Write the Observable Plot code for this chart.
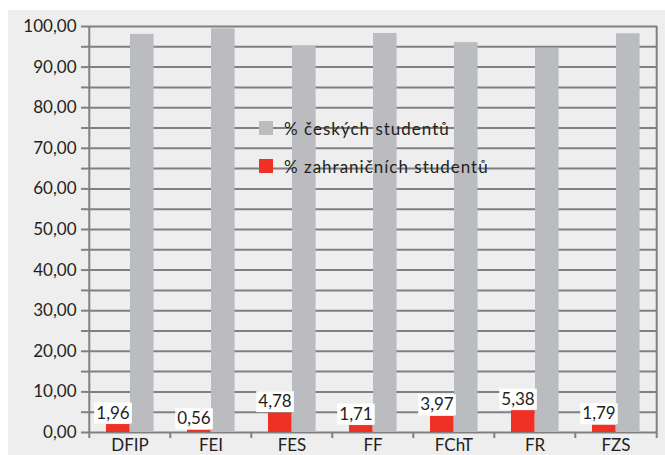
<!DOCTYPE html>
<html><head><meta charset="utf-8">
<script src="https://cdn.jsdelivr.net/npm/d3@7"></script>
<script src="https://cdn.jsdelivr.net/npm/@observablehq/plot@0.6"></script>
<style>
html,body{margin:0;padding:0;background:#fff;}
#wrap{position:relative;width:665px;height:455px;overflow:hidden;background:#fff;}
#chart{position:absolute;left:8px;top:10px;}
#legend{position:absolute;left:259px;top:118px;font-family:Lato,sans-serif;font-size:17px;color:#231f20;letter-spacing:1px;}
#legend .row{display:flex;align-items:center;height:20px;margin-bottom:18px;}
#legend .sw{width:14px;height:14px;margin-right:11px;}
</style></head><body>
<div id="wrap"><div id="chart"></div><div id="legend"></div></div>
<script>
const categories = ["DFIP","FEI","FES","FF","FChT","FR","FZS"];
const czechPct   = [98.04,99.44,95.22,98.29,96.03,94.62,98.21];
const foreignPct = [1.96,0.56,4.78,1.71,3.97,5.38,1.79];
const seriesNames = ["% českých studentů","% zahraničních studentů"];
const seriesColors = ["#bbbcbf","#ee3124"];
const yTicks = d3.range(0, 101, 5);

const czech = categories.map((c,i)=>({cat:c, value:czechPct[i]}));
const foreign = categories.map((c,i)=>({cat:c, value:foreignPct[i]}));

const W = 657, H = 445;
const mL = 79, mR = 8, mT = 16, mB = 23;
const bw = (W - mL - mR) / categories.length;
const fmt = d => d.toFixed(2).replace(".", ",");
const gridColor = "#808080";

const plot = Plot.plot({
  width: W, height: H,
  marginLeft: mL, marginRight: mR, marginTop: mT, marginBottom: mB,
  style: {background: "#eeeeee", fontFamily: "Lato, sans-serif", fontSize: "17px", color: "#231f20", overflow: "visible"},
  x: {domain: categories, padding: 0, type: "band", label: null},
  y: {domain: [0, 100], label: null},
  marks: [
    Plot.gridY(yTicks, {stroke: gridColor, strokeOpacity: 1, strokeWidth: 2}),
    Plot.barY(czech, {x: "cat", y: "value", fill: seriesColors[0], insetLeft: 41, insetRight: bw - 65}),
    Plot.barY(foreign, {x: "cat", y: "value", fill: seriesColors[1], insetLeft: 17, insetRight: bw - 41}),
    Plot.ruleX([0], {x: () => categories[0], dx: -bw/2, stroke: gridColor, strokeWidth: 2}),
    Plot.ruleX([0], {x: () => categories[categories.length-1], dx: bw/2, stroke: gridColor, strokeWidth: 2, y1: 100, y2: 0, insetBottom: -6}),
    Plot.axisY({ticks: yTicks, label: null, tickSize: 6, tickPadding: 5, tickFormat: d => d % 10 === 0 ? fmt(d) : "", stroke: gridColor, strokeWidth: 2, fontSize: 17, fill: "#231f20"}),
    Plot.axisX({label: null, tickSize: 6, tickFormat: () => "", dx: -bw/2, stroke: gridColor, strokeWidth: 2}),
    Plot.axisX({label: null, tickSize: 0, tickPadding: 6, fontSize: 17, fill: "#231f20"}),
    Plot.text(foreign, {x: "cat", y: "value", text: d => fmt(d.value), dx: -17, dy: -6, lineAnchor: "bottom", fontSize: 17, fill: "#231f20", className: "vlabel"})
  ]
});

document.getElementById("chart").appendChild(plot);

// white boxes behind the value labels
plot.querySelectorAll(".vlabel text").forEach(t => {
  const b = t.getBBox();
  const r = document.createElementNS("http://www.w3.org/2000/svg", "rect");
  r.setAttribute("x", b.x - 2);
  r.setAttribute("y", b.y + 1);
  r.setAttribute("width", b.width + 4);
  r.setAttribute("height", b.height);
  r.setAttribute("fill", "#ffffff");
  const tr = t.getAttribute("transform");
  if (tr) r.setAttribute("transform", tr);
  t.parentNode.insertBefore(r, t);
});

const legend = document.getElementById("legend");
seriesNames.forEach((n,i) => {
  const row = document.createElement("div");
  row.className = "row";
  const sw = document.createElement("div");
  sw.className = "sw";
  sw.style.background = seriesColors[i];
  const lab = document.createElement("span");
  lab.textContent = n;
  row.appendChild(sw); row.appendChild(lab);
  legend.appendChild(row);
});
</script>
</body></html>
